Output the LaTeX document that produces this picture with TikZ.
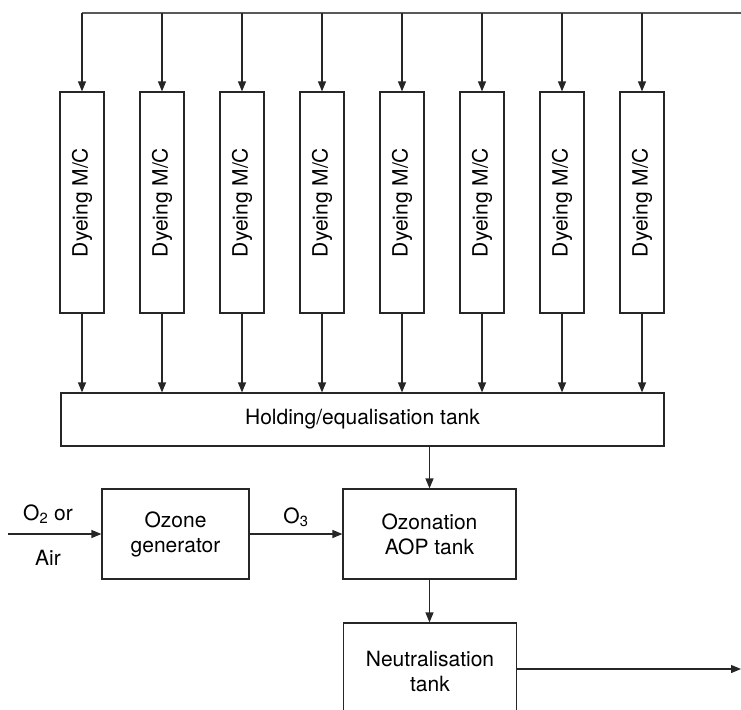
\documentclass[tikz,border=0pt]{standalone}
\usepackage{fontspec}
\setmainfont{TeX Gyre Heros}
\usetikzlibrary{arrows.meta}

\begin{document}
\begin{tikzpicture}[
        x=1pt, y=-1pt,
        every node/.style={font=\fontsize{21}{25}\selectfont},
        unit/.style={rectangle, draw=black!85, line width=1.2pt, align=center, inner sep=0pt},
        dyer/.style={unit, minimum width=44pt, minimum height=221pt},
        tank/.style={unit, minimum width=173pt, minimum height=90pt},
        arrow/.style={-{Triangle[length=10pt,width=8pt]}, line width=1.2pt, draw=black!85},
        feed/.style={line width=1.4pt, draw=black!65}
    ]
    \useasboundingbox (0,0) rectangle (741,709);

    % dyeing machines and supply line
    \coordinate (feedL) at (82,13);
    \coordinate (feedR) at (741,13);
    \draw[feed] (feedL) -- (feedR);
    \foreach \i in {1,...,8} {
        \node[dyer] (dye\i) at ({2+80*\i},202.5) {};
        \node[rotate=90] (lab\i) at (dye\i.center) {Dyeing M/C};
        \draw[arrow] (dye\i.north |- feedL) -- (dye\i.north);
    }

    \node[unit, minimum width=603pt, minimum height=53pt] (hold) at (362.5,419.5) {Holding/equalisation tank};
    \foreach \i in {1,...,8}
        \draw[arrow] (dye\i.south) -- (dye\i.south |- hold.north);

    % ozone line
    \node[unit, minimum width=147pt, minimum height=90pt] (gen) at (175.5,534) {Ozone\\generator};
    \node[tank] (oz) at (429.5,534) {Ozonation\\AOP tank};
    \node[tank, minimum height=96pt] (neut) at (430,671) {Neutralisation\\tank};

    \coordinate (in) at (8,534);
    \coordinate (out) at (741,669);
    \node (o2) at (48,514) {O\textsubscript{2} or};
    \node (air) at (48,558) {Air};

    \draw[arrow] (in) -- (gen.west);
    \draw[arrow] (gen.east) -- node[above=3pt] (o3) {O\textsubscript{3}} (oz.west);
    \draw[arrow] (oz.north |- hold.south) -- (oz.north);
    \draw[arrow] (oz.south) -- (oz.south |- neut.north);
    \draw[arrow] (neut.east |- out) -- (out);

\end{tikzpicture}
\end{document}
